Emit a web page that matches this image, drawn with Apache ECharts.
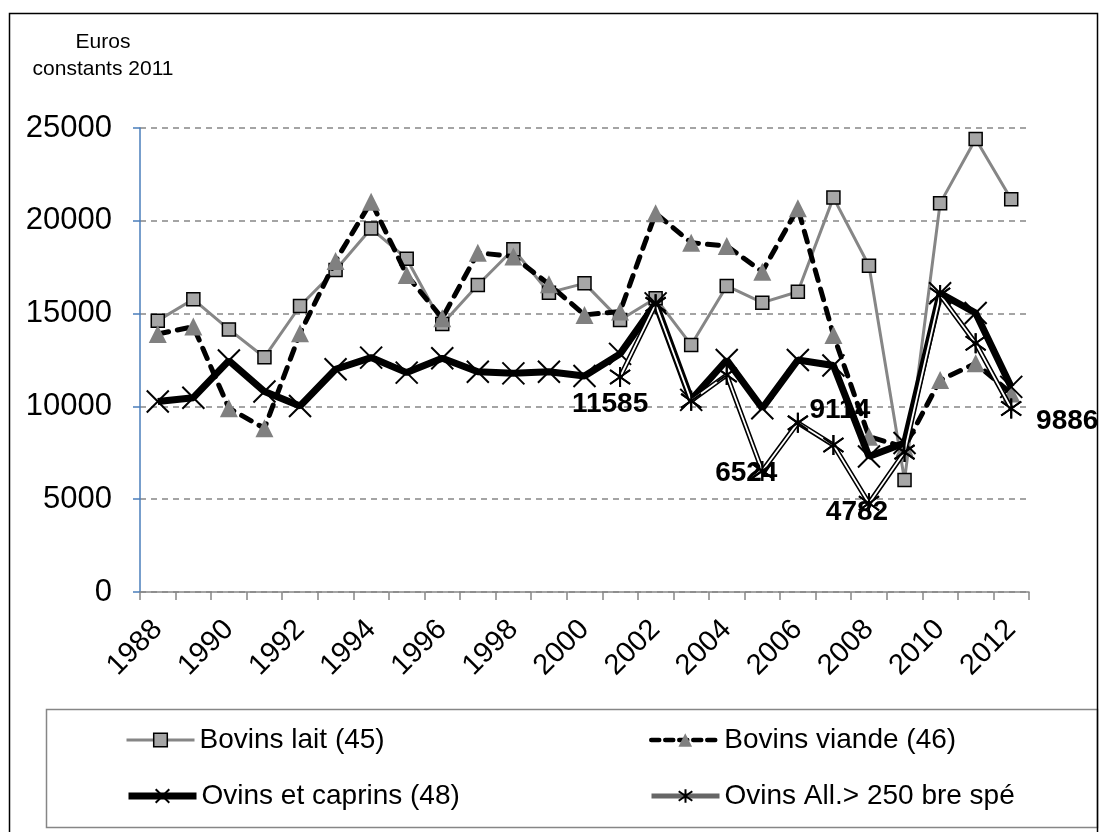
<!DOCTYPE html>
<html>
<head>
<meta charset="utf-8">
<script src="https://cdn.jsdelivr.net/npm/echarts@6/dist/echarts.min.js"></script>
<style>
html,body{margin:0;padding:0;background:#fff;}
#chart{width:1104px;height:832px;}
</style>
</head>
<body>
<div id="chart"></div>
<script>
// ---- data ----
const years = ['1988','1989','1990','1991','1992','1993','1994','1995','1996','1997','1998','1999','2000','2001','2002','2003','2004','2005','2006','2007','2008','2009','2010','2011','2012'];
const bovinsLait = [14620,15770,14150,12650,15410,17350,19580,17960,14440,16540,18470,16130,16630,14660,15830,13310,16490,15590,16180,21250,17580,6040,20940,24410,21160];
const bovinsViande = [13900,14300,9900,8820,13940,17840,21030,17080,14750,18280,18070,16580,14930,15110,20410,18820,18640,17260,20680,13850,8370,7800,11420,12320,10700];
const ovinsCaprins = [10260,10470,12470,10800,10020,12000,12630,11820,12590,11870,11780,11870,11640,12830,15550,10350,12500,9900,12500,12200,7300,8030,16100,15030,11050];
const ovinsAll = [null,null,null,null,null,null,null,null,null,null,null,null,null,11585,15500,10300,11690,6524,9114,7920,4782,7540,16000,13400,9886];
const yTicks = [0,5000,10000,15000,20000,25000];
const seriesNames = ['Bovins lait (45)','Bovins viande (46)','Ovins et caprins (48)','Ovins All.> 250 bre spé'];
const yTitle = ['Euros','constants 2011'];

// label placement (style, not data)
const labelOffsets = {'2001':[-10,27],'2005':[-16,2],'2006':[42,-13],'2008':[-12,9],'2012':[56,13]};

const FONT = '"Liberation Sans", Arial, sans-serif';
const X_PATH = 'path://M0,0L10,10M0,10L10,0';
const STAR_PATH = 'path://M1.5,1.5L8.5,8.5M1.5,8.5L8.5,1.5M5,0L5,10';

const allData = ovinsAll.map((v,i)=>{
  if (v === null) return '-';
  const off = labelOffsets[years[i]];
  if (!off) return v;
  return {value:v, label:{show:true, position:'inside', offset:off, align:'center', verticalAlign:'middle',
    fontSize:28, fontWeight:'bold', color:'#000', fontFamily:FONT, formatter:'{c}'}};
});

const chart = echarts.init(document.getElementById('chart'), null, {renderer:'canvas'});
function legendAt(name, left, top, lineStyle, itemStyle){
  return {data:[name], left:left, top:top, orient:'horizontal', padding:0, itemWidth:68, itemHeight:17, itemGap:10,
    textStyle:{fontSize:28, color:'#000', fontFamily:FONT}, selectedMode:false,
    lineStyle:lineStyle, itemStyle:itemStyle};
}
chart.setOption({
  animation:false,
  backgroundColor:'#fff',
  grid:{left:140, right:75, top:128, bottom:240},
  graphic:[
    {type:'rect', shape:{x:9.5, y:13.5, width:1088, height:830}, style:{fill:'none', stroke:'#000', lineWidth:1.5}, silent:true},
    {type:'rect', shape:{x:46.5, y:709.5, width:1051, height:118}, style:{fill:'#fff', stroke:'#868686', lineWidth:1.5}, silent:true, z:-1},
    {type:'text', x:103, y:42, style:{text:yTitle[0], font:'21px '+FONT, fill:'#000', textAlign:'center', textVerticalAlign:'middle'}},
    {type:'text', x:103, y:69, style:{text:yTitle[1], font:'21px '+FONT, fill:'#000', textAlign:'center', textVerticalAlign:'middle'}}
  ],
  legend:[
    legendAt(seriesNames[0], 125, 726, {width:3, color:'#868686'}, {borderWidth:1.5, borderColor:'#000'}),
    legendAt(seriesNames[1], 649, 726, {width:4.5, color:'#000', type:[8,6]}, {borderWidth:0}),
    legendAt(seriesNames[2], 125, 782, {width:7, color:'#000'}, {borderWidth:2, borderColor:'#000'}),
    legendAt(seriesNames[3], 649, 782, {width:5, color:'#666'}, {borderWidth:2, borderColor:'#000'})
  ],
  xAxis:{
    type:'category', data:years, boundaryGap:true,
    axisLine:{lineStyle:{color:'#868686', width:1.5}},
    axisTick:{show:true, length:8, interval:0, lineStyle:{color:'#868686', width:1.5}},
    axisLabel:{interval:1, rotate:45, margin:33, fontSize:29, color:'#000', fontFamily:FONT},
    splitLine:{show:false}
  },
  yAxis:{
    type:'value', min:yTicks[0], max:yTicks[yTicks.length-1], interval:yTicks[1]-yTicks[0],
    axisLine:{show:true, lineStyle:{color:'#4a7ebb', width:1.5}},
    axisTick:{show:true, length:7, lineStyle:{color:'#4a7ebb', width:1.5}},
    axisLabel:{margin:28, fontSize:31, color:'#000', fontFamily:FONT, formatter:(v)=>String(v)},
    splitLine:{show:true, lineStyle:{color:'#868686', width:1.5, type:[6,5]}}
  },
  series:[
    {name:seriesNames[0], type:'line', data:bovinsLait, symbol:'rect', symbolSize:13,
      itemStyle:{color:'#a6a6a6', borderColor:'#000', borderWidth:1.5},
      lineStyle:{color:'#868686', width:3}, z:2},
    {name:seriesNames[1], type:'line', data:bovinsViande, symbol:'triangle', symbolSize:18,
      itemStyle:{color:'#808080', borderWidth:0},
      lineStyle:{color:'#000', width:5, type:[11,9], cap:'round'}, z:3},
    {name:seriesNames[2], type:'line', data:ovinsCaprins, symbol:X_PATH, symbolSize:22,
      itemStyle:{color:'#000', borderColor:'#000', borderWidth:2},
      lineStyle:{color:'#000', width:7}, z:4},
    {name:seriesNames[3], type:'line', data:ovinsAll.map(v=>v===null?'-':v), symbol:STAR_PATH, symbolSize:20,
      itemStyle:{color:'#000', borderColor:'#000', borderWidth:2},
      lineStyle:{color:'#000', width:5}, connectNulls:false, z:5},
    {name:seriesNames[3], type:'line', data:allData, symbol:STAR_PATH, symbolSize:20,
      itemStyle:{color:'#000', borderColor:'#000', borderWidth:2},
      lineStyle:{color:'#fff', width:1.8}, connectNulls:false, z:6}
  ]
});
</script>
</body>
</html>
